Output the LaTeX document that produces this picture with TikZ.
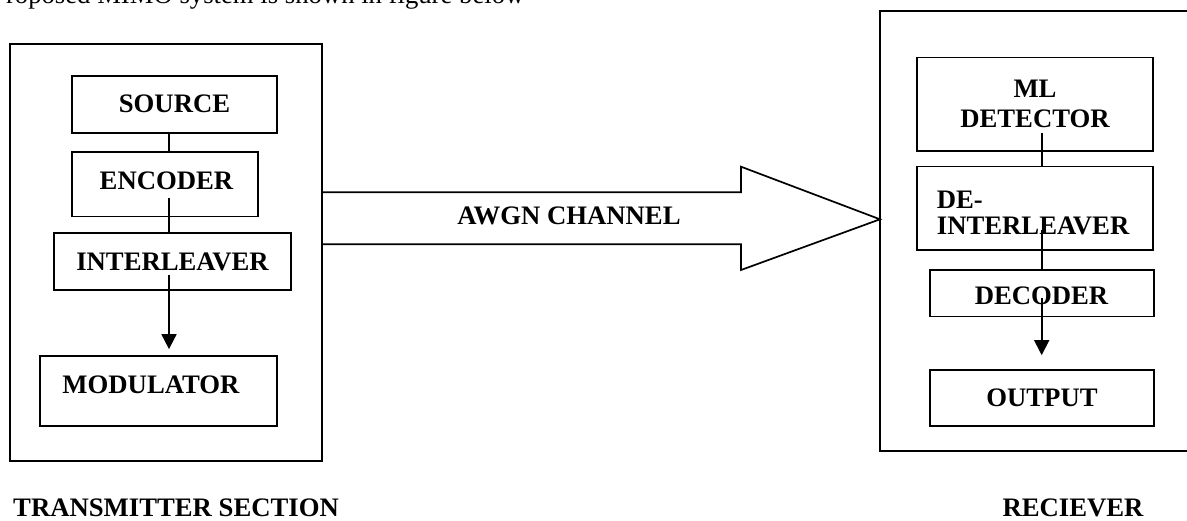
\documentclass[tikz,border=0pt]{standalone}
\usepackage{fontspec}
\setmainfont{Liberation Serif}
\usetikzlibrary{arrows.meta}
\newcommand\lbl{\fontsize{26.7}{30}\selectfont\bfseries}
\begin{document}
\begin{tikzpicture}[x=1pt,y=-1pt,
  lw/.style={line width=1.7pt},
  blk/.style={draw, lw, inner sep=0pt, font=\lbl},
  frame/.style={draw, lw, inner sep=0pt},
  txt/.style={inner sep=0pt, font=\lbl},
  link/.style={lw},
  flow/.style={lw, -{Triangle[width=15pt,length=15pt]}}]
\useasboundingbox (0,0) rectangle (1187,521);
\clip (0,0) rectangle (1187,521);

% running text above the figure
\node[inner sep=0pt, anchor=base west, font=\fontsize{26.7}{30}\selectfont] (intro) at (-9,4)
  {Proposed MIMO system is shown in figure below};

% section frames
\node[frame, minimum width=312pt, minimum height=417pt] (tx) at (166,252.5) {};
\node[frame, minimum width=320pt, minimum height=440pt] (rx) at (1040,231) {};

% transmitter chain
\node[blk, minimum width=205pt, minimum height=57pt] (src) at (174.5,104.2) {SOURCE};
\node[blk, minimum width=186pt, minimum height=64.7pt] (enc) at (165,184.3) {};
\node[txt] (enclbl) at (166.5,180.5) {ENCODER};
\node[blk, minimum width=237pt, minimum height=57pt] (int) at (172.5,261.5) {INTERLEAVER};
\node[blk, minimum width=237pt, minimum height=70pt] (mod) at (158.5,391) {};
\node[txt] (modlbl) at (151,385) {MODULATOR};

% receiver chain
\node[blk, minimum width=236pt, minimum height=93.3pt, align=center] (mld) at (1035,104.3) {ML\\DETECTOR};
\node[blk, minimum width=236pt, minimum height=83.3pt] (dei) at (1035,208.3) {};
\node[txt, anchor=west, align=left, font=\fontsize{26.7}{26}\selectfont\bfseries] (deilbl) at (936.7,213) {DE-\\INTERLEAVER};
\node[blk, minimum width=224pt, minimum height=46.7pt] (dec) at (1042,293.3) {};
\node[txt] (declbl) at (1041.5,296) {DECODER};
\node[blk, minimum width=224pt, minimum height=56pt] (out) at (1042,398) {OUTPUT};

% connectors
\coordinate (t0) at (169,132.7);
\coordinate (t1) at (169,198);
\coordinate (t2) at (169,275);
\draw[link] (t0 |- src.south) -- (t0 |- enc.north);
\draw[link] (t1) -- (t1 |- int.north);
\draw[flow, shorten >=6pt] (t2) -- (t2 |- mod.north);

\coordinate (r1) at (1041.7,133);
\coordinate (r2) at (1041.7,230);
\coordinate (r3) at (1041.7,298);
\draw[link] (r1) -- (r1 |- dei.north);
\draw[link] (r2) -- (r2 |- dec.north);
\draw[flow, shorten >=14pt] (r3) -- (r3 |- out.north);

% channel block arrow
\draw[lw, line join=miter] (322,192.3) -- (741,192.3) -- (741,166.7) -- (880,219.3)
  -- (741,270) -- (741,244.3) -- (322,244.3);
\node[txt] (awgn) at (569,216.3) {AWGN CHANNEL};

% section captions
\node[txt, anchor=base west] (txcap) at (13,516) {TRANSMITTER SECTION};
\node[txt, anchor=base] (rxcap) at (1073,516) {RECIEVER};
\end{tikzpicture}
\end{document}
